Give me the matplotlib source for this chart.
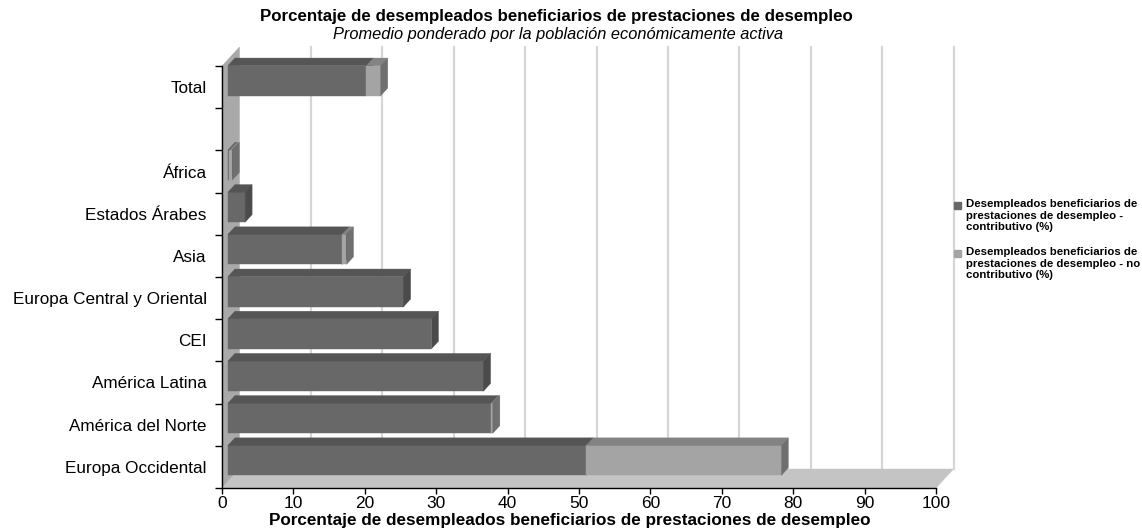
import matplotlib
matplotlib.use("Agg")
import matplotlib.pyplot as plt
from matplotlib.patches import Polygon, Rectangle

# Regions, bottom to top (index 8 is an empty spacer row)
categories = ["Europa Occidental", "América del Norte", "América Latina", "CEI",
              "Europa Central y Oriental", "Asia", "Estados Árabes", "África", "", "Total"]
contributivo = [50.2, 36.9, 35.8, 28.5, 24.6, 16.0, 2.4, 0.2, 0.0, 19.4]
no_contributivo = [27.3, 0.2, 0.0, 0.0, 0.0, 0.6, 0.0, 0.4, 0.0, 2.0]
x_ticks = [0, 10, 20, 30, 40, 50, 60, 70, 80, 90, 100]

title = "Porcentaje de desempleados beneficiarios de prestaciones de desempleo"
subtitle = "Promedio ponderado por la población económicamente activa"
xlabel = "Porcentaje de desempleados beneficiarios de prestaciones de desempleo"
legend_labels = ["Desempleados beneficiarios de\nprestaciones de desempleo -\ncontributivo (%)",
                 "Desempleados beneficiarios de\nprestaciones de desempleo - no\ncontributivo (%)"]

plt.rcParams["font.family"] = ["Liberation Sans", "DejaVu Sans"]

W, H = 1142, 529
fig = plt.figure(figsize=(W / 100, H / 100), dpi=100)
ax = fig.add_axes([222 / W, 1 - 488 / H, (936 - 222) / W, (488 - 66) / H])
ax.set_xlim(0, 100)
ax.set_ylim(-0.5, 9.5)

# oblique depth direction (full depth of the box) in data units
DX = 17.5 / 7.14
DY = 19.0 / 42.2


def proj(x, y, d):
    return (x + d * DX, y + d * DY)


def face(pts, color, z):
    ax.add_patch(Polygon(pts, closed=True, facecolor=color, edgecolor=color,
                         lw=0.3, clip_on=False, zorder=z))


# back wall gridlines
for v in x_ticks[1:]:
    (xa, ya), (xb, yb) = proj(v, -0.5, 1), proj(v, 9.5, 1)
    ax.plot([xa, xb], [ya, yb], color="#d6d6d6", lw=1.6, clip_on=False, zorder=0.5)

# left wall and floor
face([proj(0, -0.5, 0), proj(0, -0.5, 1), proj(0, 9.5, 1), proj(0, 9.5, 0)], "#a9a9a9", 1)
face([proj(0, -0.5, 0), proj(100, -0.5, 0), proj(100, -0.5, 1), proj(0, -0.5, 1)], "#c4c4c4", 1)

# 3D stacked bars
D0, D1 = 0.34, 0.74
HALF = 0.355
colors = [("#686868", "#555555", "#4b4b4b"), ("#a4a4a4", "#838383", "#6f6f6f")]
for i in range(len(categories)):
    segs = [(0.0, contributivo[i]), (contributivo[i], contributivo[i] + no_contributivo[i])]
    for k, (s, e) in enumerate(segs):
        if e - s <= 0:
            continue
        front, top, side = colors[k]
        z = 3 + i * 0.01 + k * 0.003
        ax.barh(i + D0 * DY, e - s, left=s + D0 * DX, height=2 * HALF,
                color=front, edgecolor=front, lw=0.3, zorder=z, clip_on=False)
        face([proj(s, i + HALF, D0), proj(e, i + HALF, D0),
              proj(e, i + HALF, D1), proj(s, i + HALF, D1)], top, z + 0.001)
        face([proj(e, i - HALF, D0), proj(e, i - HALF, D1),
              proj(e, i + HALF, D1), proj(e, i + HALF, D0)], side, z + 0.002)

# axes styling
for sp in ("top", "right"):
    ax.spines[sp].set_visible(False)
for sp in ("left", "bottom"):
    ax.spines[sp].set_color("black")
    ax.spines[sp].set_linewidth(1.0)
    ax.spines[sp].set_zorder(2)
ax.set_facecolor("none")

ax.set_xticks(x_ticks)
ax.set_xticklabels([str(v) for v in x_ticks], fontsize=12.5)
ax.tick_params(axis="x", direction="out", length=4, width=1, pad=2)
ax.set_yticks(range(len(categories)))
ax.set_yticklabels(categories, fontsize=12.3)
ax.set_yticks([k - 0.5 for k in range(len(categories) + 1)], minor=True)
ax.tick_params(axis="y", which="major", length=0, pad=11)
ax.tick_params(axis="y", which="minor", direction="out", length=5, width=1)

fig.text(570 / W, 1 - 520 / H, xlabel, ha="center", va="center", fontsize=12.3, weight="bold")
fig.text(556 / W, 1 - 17 / H, title, ha="center", va="center", fontsize=12.2, weight="bold")
fig.text(558 / W, 1 - 34 / H, subtitle, ha="center", va="center", fontsize=11.8, style="italic")

# legend
for k, (lab, y0) in enumerate(zip(legend_labels, (200, 248))):
    fig.add_artist(Rectangle((954 / W, 1 - (y0 + 9) / H), 7 / W, 7 / H,
                             transform=fig.transFigure, facecolor=colors[k][0],
                             edgecolor=colors[k][0]))
    fig.text(966 / W, 1 - (y0 - 1) / H, lab, ha="left", va="top", fontsize=8.2,
             weight="bold", linespacing=1.2)

fig.savefig("out.png", dpi=100)
